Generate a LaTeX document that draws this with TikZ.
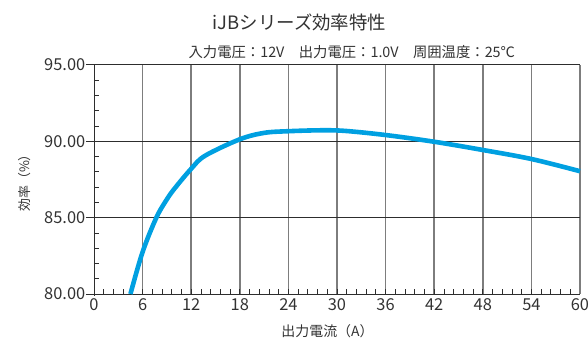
\documentclass[tikz,border=0pt]{standalone}
\usepackage{fontspec}
\setmainfont{Noto Sans CJK JP}
\usepackage{tikz}
\usetikzlibrary{positioning}
\definecolor{curveblue}{RGB}{0,160,225}
\definecolor{textgray}{RGB}{50,50,50}
\definecolor{vgrid}{RGB}{125,125,125}
\definecolor{hgrid}{RGB}{45,45,45}
\tikzset{
  hline/.style={draw=hgrid, line width=0.9bp},
  vline/.style={draw=vgrid, line width=1.7bp},
  minortick/.style={draw=hgrid, line width=0.8bp},
  ticklbl/.style={text=textgray, inner sep=0pt, font=\fontsize{16.5}{16.5}\selectfont},
  axislbl/.style={text=textgray, inner sep=0pt, font=\fontsize{14}{14}\selectfont},
  effcurve/.style={draw=curveblue, line width=4.6bp, line join=round}
}

\begin{document}
\begin{tikzpicture} [x=8.1bp, y=15.27bp]
\useasboundingbox (-11.605,-2.882) rectangle (60.99,19.253);
% grid
\foreach \x in {6,12,...,60}
  \draw [vline] (\x,0)--(\x,15);
\foreach \y in {0,5,10,15}
  \draw [hline] (-1,\y)--(60,\y);
\draw [hline] (0,-0.1)--(0,15);
% minor ticks
\foreach \y in {1,...,14}
  \draw [minortick] (0,\y)--(0.62,\y);
\foreach \i in {1,...,49}
  \draw [minortick] (1.2*\i,0)--(1.2*\i,0.33);
% tick labels
\foreach \y/\t in {0/80.00,5/85.00,10/90.00,15/95.00}
  \node [ticklbl, anchor=east] (yt\y) at (-1.05,\y) {\t};
\foreach \x in {0,6,...,60}
  \node [ticklbl] (xt\x) at (\x,-0.72) {\x};
% efficiency curve
\draw [effcurve] plot [smooth, tension=0.55] coordinates {(4.5,0) (6,2.75) (7.7,5) (9,6.2) (10,6.94) (12,8.2) (13.7,9.05) (18,10.13) (21,10.55) (24,10.66) (28,10.72) (31,10.68) (36,10.41) (42,9.97) (48,9.43) (54,8.84) (60,8.04)};
% texts
\node [text=textgray, inner sep=0pt, font=\fontsize{18.5}{18.5}\selectfont] (title) at (25.37,17.77) {iJBシリーズ効率特性};
\node [axislbl, font=\fontsize{14.4}{14.4}\selectfont] (cond) at (31.83,15.87) {入力電圧：12V　出力電圧：1.0V　周囲温度：25℃};
\node [axislbl, font=\fontsize{13}{13}\selectfont, rotate=90] (ylab) at (-8.52,7.47) {効率（\%）};
\node [axislbl] (xlab) at (28.83,-2.47) {出力電流（A）};
\end{tikzpicture}
\end{document}
